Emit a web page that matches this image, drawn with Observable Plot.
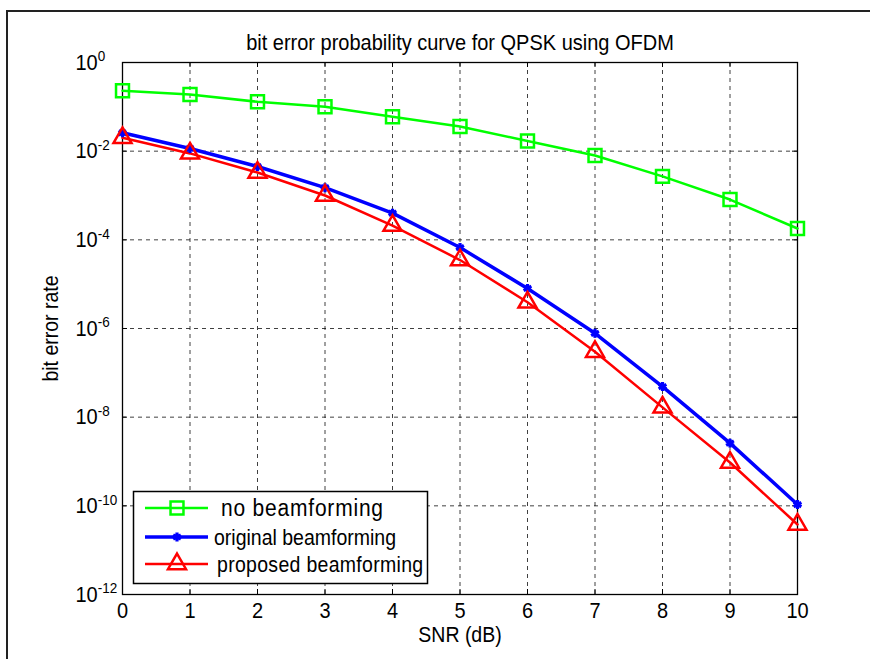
<!DOCTYPE html>
<html><head><meta charset="utf-8">
<script src="https://cdn.jsdelivr.net/npm/d3@7"></script>
<script src="https://cdn.jsdelivr.net/npm/@observablehq/plot@0.6"></script>
<style>
body{margin:0;background:#fff;}
#wrap{position:relative;width:870px;height:659px;overflow:hidden;background:#fff;}
#frame{position:absolute;left:6px;top:10px;width:900px;height:700px;border-left:2px solid #222;border-top:2px solid #222;pointer-events:none;}
#wrap svg{position:absolute;left:0;top:0;}
svg text{font-family:"Liberation Sans",Arial,sans-serif;}
</style></head><body>
<div id="wrap"><div id="frame"></div></div>
<script>
const snr = [0,1,2,3,4,5,6,7,8,9,10];
const noBeam   = [0.23,0.19,0.13,0.10,0.06,0.036,0.017,0.008,0.0027,8.1e-4,1.8e-4];
const origBeam = [0.026,0.0115,0.0045,0.0015,4e-4,6.7e-5,8e-6,7.8e-7,4.9e-8,2.6e-9,1.07e-10];
const propBeam = [0.020,0.0089,0.0033,1.0e-3,2.1e-4,3.5e-5,3.9e-6,3.0e-7,1.66e-8,9.5e-10,3.8e-11];
const seriesNames  = ["no beamforming","original beamforming","proposed beamforming"];
const seriesColors = ["#00ff00","#0000ff","#ff0000"];
const seriesSymbols = ["square","asterisk","triangle"];
const xTicks = [0,1,2,3,4,5,6,7,8,9,10];
const yTicks = [1,1e-2,1e-4,1e-6,1e-8,1e-10,1e-12];
const titleText = "bit error probability curve for QPSK using OFDM";
const xLabel = "SNR (dB)";
const yLabel = "bit error rate";

const seriesValues = [noBeam, origBeam, propBeam];
const rows = seriesValues.map((vals, s) => snr.map((x, i) => ({snr: x, ber: vals[i], series: seriesNames[s]})));

const lineWidths = [2.5, 3.5, 2.5];
const symStyle = [
  {r: 7.3, fill: "none", strokeWidth: 2.5},
  {r: 4.2, fill: "none", strokeWidth: 3.2},
  {r: 6.7, fill: "none", strokeWidth: 2.5}
];

const W = 870, H = 659, mL = 122, mR = 73, mT = 62, mB = 65;
const innerW = W - mL - mR, innerH = H - mT - mB;
const gridStyle = {stroke: "#000", strokeOpacity: 0.75, strokeDasharray: "4,4", strokeWidth: 1};

const marks = [
  Plot.gridX(xTicks.slice(1, -1), gridStyle),
  Plot.gridY(yTicks.slice(1, -1), gridStyle),
  // inward ticks
  Plot.ruleX(xTicks, {x: d => d, insetTop: innerH - 5, stroke: "#000"}),
  Plot.ruleX(xTicks, {x: d => d, insetBottom: innerH - 5, stroke: "#000"}),
  Plot.ruleY(yTicks, {y: d => d, insetRight: innerW - 5, stroke: "#000"}),
  Plot.ruleY(yTicks, {y: d => d, insetLeft: innerW - 5, stroke: "#000"}),
  Plot.frame({stroke: "#000", strokeWidth: 1.3}),
  Plot.axisX(xTicks, {anchor: "bottom", tickSize: 0, tickPadding: 7, tickFormat: d => String(d), label: null, fontSize: 20}),
  Plot.axisY(yTicks, {anchor: "left", tickSize: 0, tickPadding: 0, tickFormat: d => "10^" + Math.round(Math.log10(d)), label: null, fontSize: 20}),
  Plot.text([titleText], {frameAnchor: "top", dy: -29, text: d => d, fontSize: 20}),
  Plot.text([xLabel], {frameAnchor: "bottom", dy: 47, text: d => d, fontSize: 19.5}),
  Plot.text([yLabel], {frameAnchor: "left", dx: -72, rotate: -90, textAnchor: "middle", text: d => d, fontSize: 19.5})
];
rows.forEach((r, s) => {
  marks.push(Plot.line(r, {x: "snr", y: "ber", stroke: seriesColors[s], strokeWidth: lineWidths[s]}));
});
rows.forEach((r, s) => {
  marks.push(Plot.dot(r, {x: "snr", y: "ber", symbol: seriesSymbols[s], stroke: seriesColors[s], fill: symStyle[s].fill, r: symStyle[s].r, strokeWidth: symStyle[s].strokeWidth}));
});

const plot = Plot.plot({
  width: W, height: H, marginLeft: mL, marginRight: mR, marginTop: mT, marginBottom: mB,
  style: {fontFamily: "'Liberation Sans', Arial, sans-serif", fontSize: "19px", color: "#000", background: "transparent", overflow: "visible"},
  x: {domain: [0, 10]},
  y: {type: "log", domain: [1e-12, 1]},
  marks
});
document.getElementById("wrap").appendChild(plot);

// superscript exponents on y tick labels
const svg = d3.select(plot);
svg.selectAll('g[aria-label="y-axis tick label"] text').each(function() {
  const t = d3.select(this);
  const s = t.text();
  const exp = s.split("^")[1];
  t.text(null);
  t.attr("text-anchor", "start").attr("dx", -47);
  t.append("tspan").text("10");
  t.append("tspan").attr("dy", "-0.55em").attr("font-size", "13.5px").text(exp);
});
svg.selectAll('g[aria-label="y-axis tick label"]').attr("text-anchor", "start");

// legend
const lg = svg.append("g").attr("class", "legend").attr("text-anchor", "start");
lg.append("rect").attr("x", 133.5).attr("y", 491.5).attr("width", 294).attr("height", 92)
  .attr("fill", "#fff").attr("stroke", "#000").attr("stroke-width", 1.5);
const rowY = [508, 537, 564];
const textX = [221, 214, 217];
const textSize = [21, 19.5, 19.5];
const textSpacing = [0.8, 0, 0.3];
const symbolTypes = [d3.symbolSquare, d3.symbolAsterisk, d3.symbolTriangle];
seriesNames.forEach((name, s) => {
  const y = rowY[s];
  lg.append("line").attr("x1", 145).attr("x2", 208).attr("y1", y).attr("y2", y)
    .attr("stroke", seriesColors[s]).attr("stroke-width", lineWidths[s]);
  lg.append("path").attr("transform", `translate(177,${y})`)
    .attr("d", d3.symbol(symbolTypes[s], Math.PI * symStyle[s].r * symStyle[s].r)())
    .attr("fill", "none").attr("stroke", seriesColors[s]).attr("stroke-width", symStyle[s].strokeWidth);
  lg.append("text").attr("x", textX[s]).attr("y", y).attr("dy", "0.35em")
    .attr("text-anchor", "start")
    .attr("font-size", textSize[s]).attr("letter-spacing", textSpacing[s])
    .attr("fill", "#000").text(name);
});

// the reference's lettering is slightly stretched vertically
svg.selectAll("text").each(function() {
  const el = this;
  const px = v => v != null && /^-?[\d.]+(px)?$/.test(v.trim());
  let x = 0, y = 0;
  const ax = el.getAttribute("x"), ay = el.getAttribute("y");
  if (px(ax)) { x = parseFloat(ax); el.removeAttribute("x"); }
  if (px(ay)) { y = parseFloat(ay); el.removeAttribute("y"); }
  const tr = el.getAttribute("transform") || "";
  el.setAttribute("transform", `${tr} translate(${x},${y}) scale(1,1.13)`);
});
</script>
</body></html>
